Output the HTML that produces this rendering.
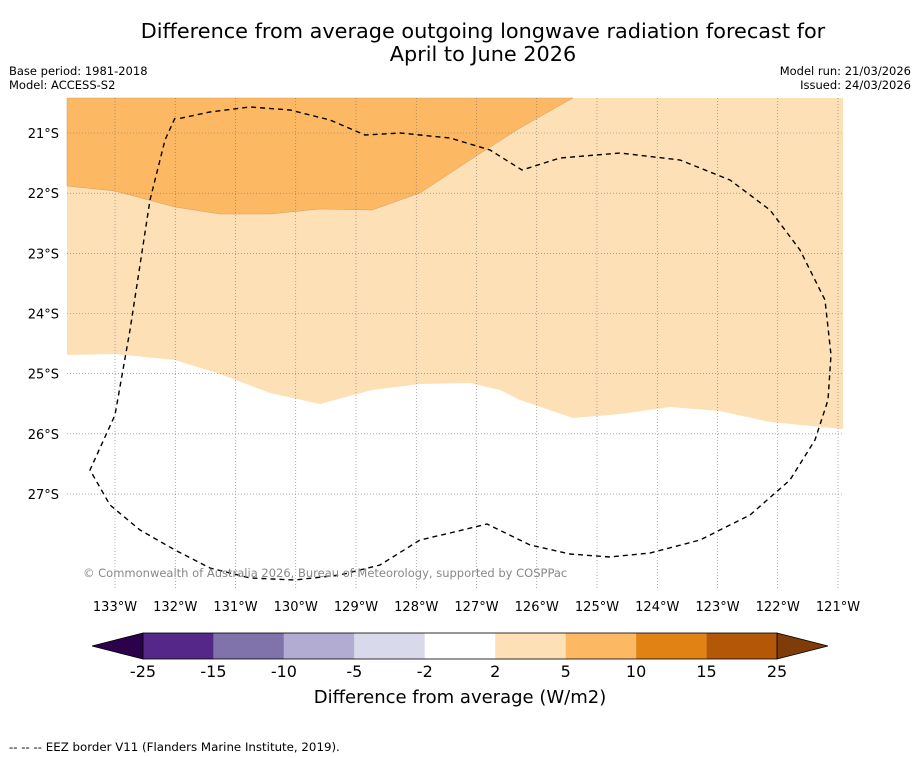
<!DOCTYPE html>
<html><head><meta charset="utf-8"><style>
body{margin:0;background:#fff;}
svg{display:block;font-family:"DejaVu Sans","Liberation Sans",sans-serif;}
</style></head><body>
<svg id="c" width="919" height="758" viewBox="0 0 919 758">
<rect width="919" height="758" fill="#fff"/>
<text x="483" y="38" font-size="20.8" text-anchor="middle">Difference from average outgoing longwave radiation forecast for</text>
<text x="483" y="61" font-size="20.8" text-anchor="middle">April to June 2026</text>
<text x="9" y="75" font-size="11.5">Base period: 1981-2018</text>
<text x="9" y="89" font-size="11.5">Model: ACCESS-S2</text>
<text x="911" y="75" font-size="11.5" text-anchor="end">Model run: 21/03/2026</text>
<text x="911" y="89" font-size="11.5" text-anchor="end">Issued: 24/03/2026</text>
<g id="map"></g>
<g id="cbar"></g>
<text x="460" y="703" font-size="18" text-anchor="middle">Difference from average (W/m2)</text>
<text x="9" y="751" font-size="11.8">--  --  -- EEZ border V11 (Flanders Marine Institute, 2019).</text>
</svg>
<script>
const lonTicks=[-133,-132,-131,-130,-129,-128,-127,-126,-125,-124,-123,-122,-121];
const latTicks=[21,22,23,24,25,26,27];
const cbLevels=[-25,-15,-10,-5,-2,2,5,10,15,25];
const cbColors=["#542788","#8073ac","#b2abd2","#d8daeb","#ffffff","#fee0b6","#fdb863","#e08214","#b35806"];
const cbLow="#2d004b", cbHigh="#7f3b08";
const px2=(x,y)=>[-133+(x-115)/60.25, 21+(y-133)/60.17];
const orangeEdge=[[67,186],[115,191],[175,207],[220,214],[270,214],[320,209],[372,210],[420,193],[470,160],[520,128],[573,98]].map(p=>px2(...p));
const whiteEdge=[[67,355],[115,354],[175,360],[220,374],[270,393],[320,404],[372,390],[420,384],[470,383],[500,390],[520,400],[573,418],[620,414],[670,407],[720,411],[770,422],[843,429]].map(p=>px2(...p));
const eez=[[175,118],[165,140],[150,200],[130,330],[115,415],[90,470],[110,505],[140,530],[175,550],[210,568],[250,578],[295,580],[340,575],[380,565],[420,540],[450,533],[487,524],[530,545],[570,554],[610,557],[650,553],[700,540],[750,515],[790,480],[815,440],[828,400],[831,355],[825,300],[800,250],[770,210],[730,180],[680,160],[620,153],[560,158],[522,170],[490,150],[450,138],[400,133],[365,135],[330,120],[290,110],[250,107],[210,112],[177,119]].map(p=>px2(...p));
const X0=67,X1=843,Y0=98,Y1=590;
const xS=lon=>115+(lon+133)*60.25;
const yS=lat=>133+(lat-21)*60.17;
const NS="http://www.w3.org/2000/svg";
function mk(t,a,p){const e=document.createElementNS(NS,t);for(const k in a)e.setAttribute(k,a[k]);p.appendChild(e);return e;}
const map=document.getElementById('map');
const pts=arr=>arr.map(p=>xS(p[0]).toFixed(1)+","+yS(p[1]).toFixed(1)).join(" ");
let e=mk('rect',{x:X0,y:Y0,width:X1-X0,height:Y1-Y0,fill:'#fff'},map);


e=mk('polygon',{points:`${X0},${Y0} ${X1},${Y0} `+pts(whiteEdge.slice().reverse()),fill:cbColors[5]},map);


e=mk('polygon',{points:`${X0},${Y0} `+pts(orangeEdge),fill:cbColors[6],stroke:'#c9a070','stroke-width':0.5},map);


lonTicks.forEach(l=>{const x=xS(l);
 const g=mk('line',{x1:x,y1:Y0,x2:x,y2:Y1,stroke:'#777','stroke-width':0.6,'stroke-dasharray':'1,2'},map);
 
 
 const t=mk('text',{x:x,y:611,'font-size':13,'text-anchor':'middle'},map);t.textContent=Math.abs(l)+"°W";
 
 });
latTicks.forEach(l=>{const y=yS(l);
 const g=mk('line',{x1:X0,y1:y,x2:X1,y2:y,stroke:'#777','stroke-width':0.6,'stroke-dasharray':'1,2'},map);
 
 
 const t=mk('text',{x:59,y:y+5,'font-size':13,'text-anchor':'end'},map);t.textContent=l+"°S";
 
 });
e=mk('polyline',{points:pts(eez),fill:'none',stroke:'#000','stroke-width':1.4,'stroke-dasharray':'5,4'},map);


e=mk('text',{x:83,y:577,'font-size':11.5,fill:'#888'},map);e.textContent="© Commonwealth of Australia 2026, Bureau of Meteorology, supported by COSPPac";


const cb=document.getElementById('cbar');
const cx0=143,cx1=777,cy0=633,cy1=659,n=cbColors.length,w=(cx1-cx0)/n;
e=mk('polygon',{points:`92,646 ${cx0},${cy0} ${cx0},${cy1}`,fill:cbLow,stroke:'#000','stroke-width':0.8},cb);


e=mk('polygon',{points:`828,646 ${cx1},${cy0} ${cx1},${cy1}`,fill:cbHigh,stroke:'#000','stroke-width':0.8},cb);


cbColors.forEach((c,i)=>{const r=mk('rect',{x:cx0+i*w,y:cy0,width:w,height:cy1-cy0,fill:c},cb);
 
 });
e=mk('rect',{x:cx0,y:cy0,width:cx1-cx0,height:cy1-cy0,fill:'none',stroke:'#000','stroke-width':0.8},cb);


cbLevels.forEach((v,i)=>{const t=mk('text',{x:cx0+i*w,y:677,'font-size':16,'text-anchor':'middle'},cb);t.textContent=v;
 
 });
</script>
</body></html>
